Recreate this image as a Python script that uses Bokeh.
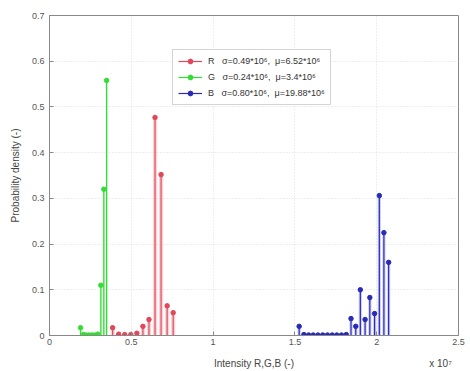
from bokeh.plotting import figure
from bokeh.models import Legend, LegendItem, LinearAxis, FixedTicker, Range1d
from bokeh.embed import file_html
from bokeh.resources import INLINE

# Data (x in units of intensity, y probability density)
green_x = [0.190e7, 0.208e7, 0.225e7, 0.243e7, 0.261e7, 0.279e7, 0.296e7, 0.314e7, 0.332e7, 0.349e7]
green_y = [0.017, 0.002, 0.001, 0.001, 0.001, 0.001, 0.003, 0.11, 0.32, 0.558]

red_x = [0.386e7, 0.423e7, 0.460e7, 0.497e7, 0.534e7, 0.571e7, 0.608e7, 0.645e7, 0.682e7, 0.719e7, 0.756e7]
red_y = [0.017, 0.003, 0.002, 0.002, 0.005, 0.02, 0.035, 0.477, 0.352, 0.065, 0.05]

blue_x = [1.526e7, 1.555e7, 1.584e7, 1.612e7, 1.641e7, 1.670e7, 1.699e7, 1.728e7, 1.756e7, 1.785e7,
          1.814e7, 1.843e7, 1.872e7, 1.900e7, 1.929e7, 1.958e7, 1.987e7, 2.016e7, 2.044e7, 2.073e7]
blue_y = [0.02, 0.002, 0.001, 0.001, 0.001, 0.001, 0.001, 0.001, 0.001, 0.001,
          0.002, 0.037, 0.02, 0.1, 0.035, 0.083, 0.048, 0.306, 0.225, 0.16]

labels = ["R   \u03c3=0.49*10\u2076,  \u03bc=6.52*10\u2076",
          "G   \u03c3=0.24*10\u2076,  \u03bc=3.4*10\u2076",
          "B   \u03c3=0.80*10\u2076,  \u03bc=19.88*10\u2076"]
x_ticks = [0, 0.5e7, 1e7, 1.5e7, 2e7, 2.5e7]
x_tick_labels = ["0", "0.5", "1", "1.5", "2", "2.5"]
y_ticks = [0, 0.1, 0.2, 0.3, 0.4, 0.5, 0.6, 0.7]
x_title = "Intensity R,G,B (-)"
x_title_pos = 1.25e7
x_exp = "x 10\u2077"
x_exp_pos = 2.39e7

FONT = "Liberation Sans"

p = figure(width=470, height=371, output_backend="svg", toolbar_location=None,
           x_range=Range1d(0, 2.5e7), y_range=Range1d(0, 0.7))
p.min_border_left = 49
p.min_border_right = 12
p.min_border_top = 15
p.min_border_bottom = 36
p.background_fill_color = "white"
p.border_fill_color = "white"
p.outline_line_color = "#888888"
p.outline_line_width = 1

p.xaxis.ticker = FixedTicker(ticks=x_ticks)
p.xaxis.major_label_overrides = {t: l for t, l in zip(x_ticks, x_tick_labels)}
p.yaxis.ticker = FixedTicker(ticks=y_ticks)
p.yaxis.major_label_overrides = {0: "0", 0.1: "0.1", 0.2: "0.2", 0.3: "0.3", 0.4: "0.4",
                                 0.5: "0.5", 0.6: "0.6", 0.7: "0.7"}
for ax in (p.xaxis, p.yaxis):
    ax.axis_line_color = "#888888"
    ax.major_tick_line_color = "#888888"
    ax.major_tick_in = 4
    ax.major_tick_out = 0
    ax.minor_tick_line_color = None
    ax.major_label_text_font = FONT
    ax.major_label_text_font_size = "9px"
    ax.major_label_text_color = "#555555"
    ax.axis_label_text_font = FONT
    ax.axis_label_text_font_size = "10px"
    ax.axis_label_text_font_style = "normal"
    ax.axis_label_text_color = "#444444"
p.yaxis.axis_label = "Probability density (-)"
p.xaxis.major_label_standoff = 3
p.yaxis.major_label_standoff = 5
p.yaxis.axis_label_standoff = 8

# second, tick-less axis carrying the x title and the exponent
extra = LinearAxis(ticker=FixedTicker(ticks=[x_title_pos, x_exp_pos]),
                   major_label_overrides={x_title_pos: x_title, x_exp_pos: x_exp})
extra.axis_line_color = None
extra.major_tick_line_color = None
extra.minor_tick_line_color = None
extra.major_label_text_font = FONT
extra.major_label_text_font_size = "10px"
extra.major_label_text_color = "#444444"
extra.major_label_standoff = 4
p.add_layout(extra, "below")

p.xgrid.grid_line_color = "#dddddd"
p.ygrid.grid_line_color = "#dddddd"
p.xgrid.grid_line_dash = "1 2"
p.ygrid.grid_line_dash = "1 2"

series = [
    (red_x, red_y, "#e0485a", "#f4b8bc", 0.037e7),
    (green_x, green_y, "#33dd33", "#aaf0aa", 0.0177e7),
    (blue_x, blue_y, "#2a2ab8", "#aeb0ee", 0.0288e7),
]
items = []
for (xs, ys, col, light, step), lab in zip(series, labels):
    p.vbar(x=xs, top=ys, bottom=0, width=step * 0.7, fill_color=light, fill_alpha=0.6, line_color=None)
    seg = p.segment(x0=xs, y0=[0] * len(xs), x1=xs, y1=ys, line_color=col, line_width=1.2)
    sc = p.scatter(x=xs, y=ys, marker="circle", size=4.5, fill_color=col, line_color=col)
    items.append(LegendItem(label=lab, renderers=[seg, sc]))

legend = Legend(items=items, location=(123, 230))
legend.label_text_font = FONT
legend.label_text_font_size = "9px"
legend.label_text_color = "#333333"
legend.label_height = 12
legend.label_standoff = 6
legend.glyph_width = 24
legend.glyph_height = 12
legend.spacing = 4
legend.padding = 5
legend.margin = 0
legend.border_line_color = "#aaaaaa"
legend.background_fill_color = "white"
p.add_layout(legend, "center")

open("out.html", "w").write(file_html(p, INLINE))
